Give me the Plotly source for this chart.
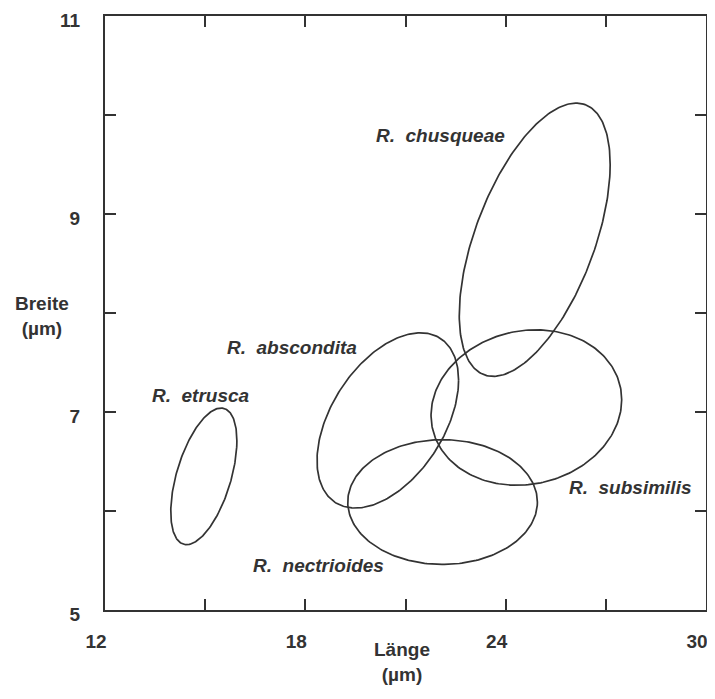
import numpy as np
import plotly.graph_objects as go

# Ellipse parameters (Länge / Breite in µm)
species = ["R. etrusca", "R. abscondita", "R. chusqueae", "R. subsimilis", "R. nectrioides"]
center_x = [14.96, 20.47, 24.87, 24.62, 22.11]
center_y = [6.35, 6.915, 8.74, 7.045, 6.09]
half_x = [0.99, 2.12, 2.26, 2.855, 2.84]
half_y = [0.69, 0.885, 1.38, 0.785, 0.63]
corr = [0.52, 0.46, 0.55, 0.10, 0.0]

# label positions (data coords)
label_x = [14.87, 17.59, 22.05, 27.73, 18.40]
label_y = [7.17, 7.65, 9.79, 6.24, 5.45]

x_range = [12, 30]
y_range = [5, 11]
x_ticks = [12, 15, 18, 21, 24, 27, 30]
x_ticklabels = ["12", "", "18", "", "24", "", "30"]
y_ticks = [5, 6, 7, 8, 9, 10, 11]
y_ticklabels = ["5", "", "7", "", "9", "", "11"]

INK = "#333333"
FONT = "Liberation Sans"

# figure geometry (the page adds an 8px body margin)
W, H = 699, 683
ML, MR, MT, MB = 88, 1, 8, 77
PW, PH = W - ML - MR, H - MT - MB
DX, DY = 9, 4  # tick labels sit a little left of / below their ticks

fig = go.Figure()
t = np.linspace(0, 2 * np.pi, 240)
for name, cx, cy, sx, sy, r in zip(species, center_x, center_y, half_x, half_y, corr):
    xs = cx + sx * np.cos(t)
    ys = cy + sy * (r * np.cos(t) + np.sqrt(1 - r * r) * np.sin(t))
    fig.add_trace(go.Scatter(x=xs, y=ys, mode="lines", name=name, xaxis="x2", yaxis="y2",
                             line=dict(color=INK, width=1.7), showlegend=False,
                             hoverinfo="skip"))

# invisible trace on the tick-label axes
fig.add_trace(go.Scatter(x=[x_range[0]], y=[y_range[0]], mode="markers",
                         marker=dict(opacity=0), showlegend=False, hoverinfo="skip"))

for name, lx, ly in zip(species, label_x, label_y):
    parts = name.split(" ")
    fig.add_annotation(x=lx, y=ly, xref="x2", yref="y2", showarrow=False,
                       text="<b><i>" + parts[0] + "&nbsp; " + parts[1] + "</i></b>",
                       font=dict(family=FONT, size=19, color=INK))

# tick-label axes
label_axis = dict(showgrid=False, zeroline=False, showline=False, ticks="outside",
                  tickcolor="rgba(0,0,0,0)", ticklabeloverflow="allow",
                  automargin=False, tickmode="array",
                  tickfont=dict(family=FONT, size=19, color=INK))
fig.update_layout(
    xaxis=dict(range=x_range, tickvals=x_ticks, domain=[0, 1 - DX / PW], anchor="y",
               ticklen=10,
               ticktext=["<b>" + s + "</b>" if s else "" for s in x_ticklabels],
               **label_axis),
    yaxis=dict(range=y_range, tickvals=y_ticks, domain=[0, 1 - DY / PH], anchor="x",
               ticklen=11,
               ticktext=["<b>" + s + "</b>" if s else "" for s in y_ticklabels],
               **label_axis),
)

# frame axes carrying the data: inside ticks on all four sides
frame_axis = dict(showgrid=False, zeroline=False, showline=True, linecolor=INK,
                  linewidth=1.7, mirror="ticks", ticks="inside", ticklen=11,
                  tickwidth=1.7, tickcolor=INK, showticklabels=False, tickmode="array",
                  automargin=False)
fig.update_layout(
    xaxis2=dict(range=x_range, tickvals=x_ticks, domain=[DX / PW, 1], anchor="y2",
                **frame_axis),
    yaxis2=dict(range=y_range, tickvals=y_ticks, domain=[DY / PH, 1], anchor="x2",
                **frame_axis),
)

fig.add_annotation(x=-0.0885, y=0.498, xref="paper", yref="paper", showarrow=False,
                   xanchor="center", yanchor="middle",
                   text="<b>Breite<br>(µm)</b>", align="center",
                   font=dict(family=FONT, size=19, color=INK))
fig.add_annotation(x=0.502, y=-0.081, xref="paper", yref="paper", showarrow=False,
                   xanchor="center", yanchor="middle",
                   text="<b>Länge<br>(µm)</b>", align="center",
                   font=dict(family=FONT, size=19, color=INK))

fig.update_layout(width=W, height=H, plot_bgcolor="rgba(0,0,0,0)", paper_bgcolor="white",
                  margin=dict(l=ML, r=MR, t=MT, b=MB))

fig.write_html("out.html")
